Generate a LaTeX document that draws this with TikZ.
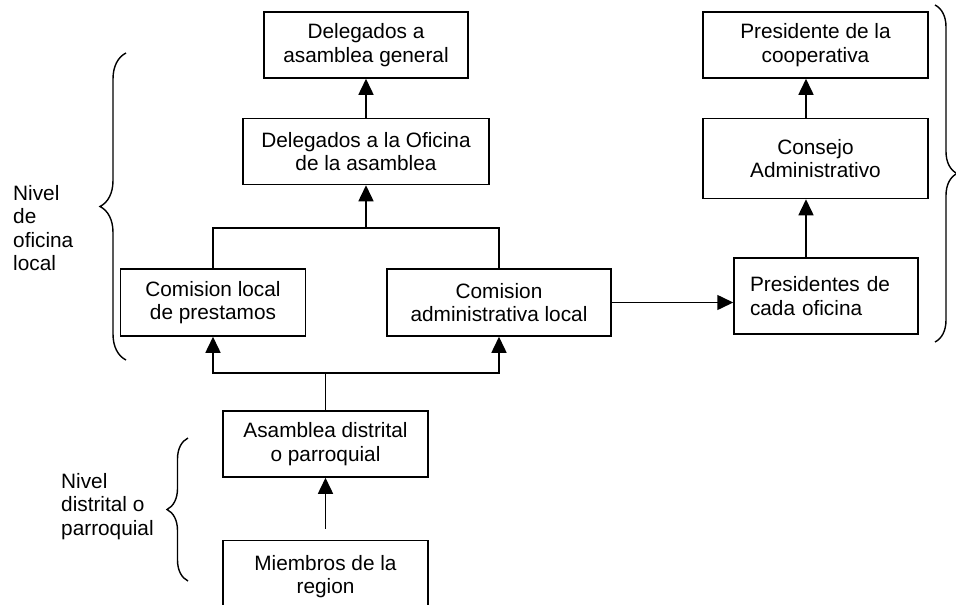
\documentclass[tikz,border=0pt]{standalone}
\usepackage{fontspec}
\setmainfont{Liberation Sans}
\usetikzlibrary{arrows.meta,positioning,decorations.pathreplacing}
\tikzset{org box/.style={rectangle,draw,line width=1.5pt,align=center,inner sep=2pt},
         lvl brace/.style={line width=1.4pt,decorate,decoration={brace,amplitude=#1}},}
\tikzstyle{arrow} = [line width=1.5pt,-{Triangle[length=16pt,width=15pt]}]
\tikzstyle{link} = [line width=1.5pt]

\begin{document}
\begin{tikzpicture}[x=1pt,y=-1pt,font=\fontsize{20.8}{23.5}\selectfont]
    \useasboundingbox (0,0) rectangle (956,605);

    % oficina local
    \node[org box,minimum width=204pt,minimum height=66pt] (gen) at (366,45) {Delegados a\\asamblea general};
    \node[org box,minimum width=246pt,minimum height=66pt] (ofi)[below=39pt of gen] {Delegados a la Oficina\\de la asamblea};
    \node[org box,minimum width=185pt,minimum height=67pt] (prest) at (213,302.5) {Comision local\\de prestamos};
    \node[org box,minimum width=224pt,minimum height=67pt] (adm) at (499,302.5) {Comision\\administrativa local};

    % cooperativa
    \node[org box,minimum width=225pt,minimum height=66pt] (coop) at (815.5,45) {Presidente de la\\cooperativa};
    \node[org box,minimum width=225pt,minimum height=80pt] (cons)[below=39pt of coop] {Consejo\\Administrativo};
    \node[org box,align=left,text width=152pt,inner xsep=16pt,minimum height=76pt] (pres) at (826,296) {Presidentes de\\cada oficina};

    % distrito
    \node[org box,minimum width=205pt,minimum height=66pt] (asam) at (325.5,444) {Asamblea distrital\\o parroquial};
    \node[org box,minimum width=205pt,minimum height=72pt] (miem)[below=62pt of asam] {Miembros de la\\region};

    \coordinate (top) at (366,228);
    \coordinate (bot) at (325.5,373);

   	\draw [arrow] (ofi.north) -- (gen.south);
   	\draw [link] (prest.north) |- (top) -| (adm.north);
   	\draw [arrow] (top) -- (ofi.south);
   	\draw [link] (asam.north) -- (bot);
   	\draw [arrow] (bot) -| (prest.south);
   	\draw [arrow] (bot) -| (adm.south);
   	\draw [arrow,shorten <=11pt] (miem.north) -- (asam.south);
   	\draw [arrow] (adm.east) -- (adm.east -| pres.west);
   	\draw [arrow] ([xshift=-9.5pt]cons.south |- pres.north) -- ([xshift=-9.5pt]cons.south);
   	\draw [arrow] ([xshift=-9.5pt]cons.north) -- ([xshift=-9.5pt]coop.south);

    % niveles
   	\draw [lvl brace=22pt] (935,5) -- (935,342);
   	\draw [lvl brace=26pt] (126,360) -- (126,53);
   	\draw [lvl brace=21pt] (188,581) -- (188,438);
    \node[anchor=north west,align=left,inner sep=0pt] (lvlof) at (13,185) {Nivel\\de\\oficina\\local};
    \node[anchor=north west,align=left,inner sep=0pt] (lvldis) at (61,473) {Nivel\\distrital o\\parroquial};

\end{tikzpicture}
\end{document}
